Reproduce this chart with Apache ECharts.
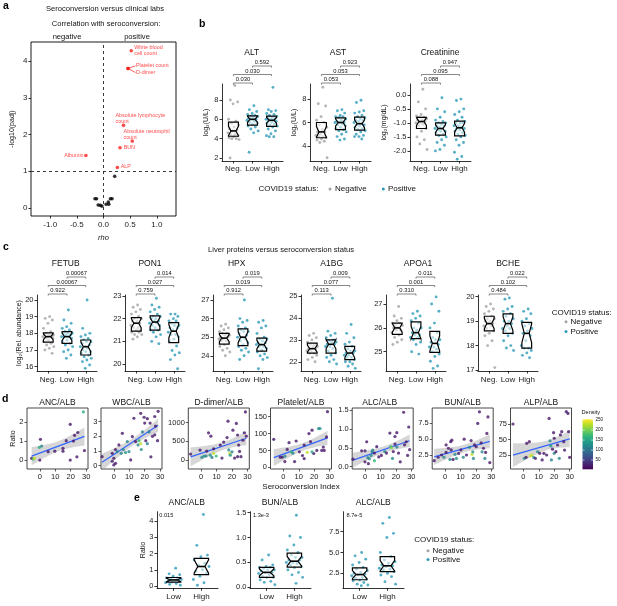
<!DOCTYPE html>
<html><head><meta charset="utf-8">
<script src="https://cdn.jsdelivr.net/npm/echarts@6/dist/echarts.min.js"></script>
<style>html,body{margin:0;padding:0;background:#fff}#c{width:617px;height:606px}</style>
</head><body><div id="c"></div>
<script>
// ================= DATA =================
// Panel a : correlation with seroconversion
const aLabNames = ['White blood\ncell count','Platelet count','D-dimer','Absolute lymphocyte\ncount','Absolute neutrophil\ncount','BUN','ALP','Albumin'];
const aLabRho   = [0.52, 0.46, 0.46, 0.375, 0.54, 0.31, 0.26, -0.33];
const aLabPadj  = [4.28, 3.80, 3.80, 2.25, 1.82, 1.64, 1.10, 1.43];
const aOtherRho  = [0.21,-0.16,-0.13,-0.06,-0.10,-0.03,0.05,0.09,0.10,0.13,0.16];
const aOtherPadj = [0.86, 0.25, 0.25, 0.07, 0.08, 0.05,0.10,0.16,0.10,0.25,0.25];
const aXTicks = [-1,-0.5,0,0.5,1];
const aYTicks = [0,1,2,3,4];

// Panel b : clinical labs by group
const groups3 = ['Neg.','Low','High'];
const altNeg  = [9.5,8.0,7.8,7.6,6.0,5.8,5.6,5.4,5.2,5.0,4.9,4.8,4.6,4.5,4.4,4.3,4.2,4.1,4.0,4.0,3.9,4.3,2.0];
const altLow  = [7.4,7.0,6.8,6.6,6.5,6.4,6.3,6.3,6.2,6.1,6.0,6.0,5.9,5.8,5.7,5.6,5.5,5.3,5.2,5.0,4.8,4.6,2.6];
const altHigh = [9.3,7.0,6.9,6.8,6.6,6.5,6.4,6.3,6.2,6.2,6.1,6.0,6.0,5.9,5.9,5.8,5.7,5.6,5.5,5.4,5.3,5.2,5.0,4.8,4.5,4.3,4.2,4.2];
const astNeg  = [9.0,7.6,7.4,6.5,6.2,6.0,5.8,5.6,5.4,5.2,5.2,5.0,4.9,4.8,4.8,4.7,4.6,4.5,4.4,4.3,3.0];
const astLow  = [7.1,7.0,6.8,6.6,6.5,6.5,6.4,6.3,6.2,6.1,6.0,6.0,6.0,5.9,5.8,5.7,5.6,5.5,5.4,5.3,5.2,5.0,4.8,4.6,4.5];
const astHigh = [7.9,7.7,7.0,6.9,6.8,6.6,6.5,6.4,6.3,6.2,6.2,6.1,6.0,5.9,5.8,5.8,5.7,5.6,5.5,5.4,5.3,5.2,5.0,4.9,4.8,4.8,4.6];
const creNeg  = [0.2,-0.25,-0.5,-0.7,-0.75,-0.8,-0.8,-0.85,-0.9,-0.9,-0.95,-1.0,-1.0,-1.05,-1.1,-1.2,-1.3,-1.5,-1.6,-1.75,-1.95];
const creLow  = [-0.1,-0.5,-0.6,-0.8,-0.9,-0.95,-1.0,-1.0,-1.05,-1.1,-1.1,-1.15,-1.2,-1.2,-1.25,-1.3,-1.3,-1.35,-1.4,-1.45,-1.5,-1.6,-1.7,-1.8,-1.95,-2.0];
const creHigh = [-0.15,-0.2,-0.5,-0.6,-0.7,-0.8,-0.9,-0.95,-1.0,-1.0,-1.0,-1.1,-1.1,-1.15,-1.2,-1.2,-1.25,-1.3,-1.35,-1.4,-1.45,-1.5,-1.6,-1.7,-1.8,-2.05,-2.2,-2.3];
const altP = ['0.030','0.030','0.592'];   // Neg-Low, Neg-High, Low-High
const astP = ['0.053','0.053','0.923'];
const creP = ['0.088','0.095','0.947'];
const altTicks = [2,4,6,8];
const astTicks = [4,6,8];
const creTicks = [-2,-1.5,-1,-0.5,0];

// Panel c : liver proteins
const fetubNeg  = [19.0,18.9,18.8,18.6,18.3,18.1,18.0,17.9,17.9,17.9,17.8,17.8,17.8,17.8,17.7,17.7,17.6,17.5,17.4,17.3,17.2,17.1,17.0,16.8];
const fetubLow  = [19.4,18.8,18.6,18.4,18.3,18.2,18.1,18.0,18.0,18.0,17.9,17.9,17.8,17.8,17.8,17.7,17.6,17.5,17.4,17.3,17.2,17.0,16.9,16.7,16.5];
const fetubHigh = [20.0,18.3,18.0,17.9,17.8,17.7,17.6,17.5,17.5,17.4,17.3,17.2,17.2,17.1,17.0,16.9,16.9,16.8,16.7,16.6,16.5,16.4,16.3,16.1,15.9];
const pon1Neg  = [22.6,22.5,22.4,22.3,22.2,22.1,22.0,22.0,21.9,21.9,21.8,21.8,21.7,21.6,21.6,21.5,21.5,21.4,21.4,21.3,21.3,21.2,21.1];
const pon1Low  = [22.9,22.6,22.5,22.4,22.3,22.2,22.1,22.1,22.0,22.0,21.9,21.9,21.8,21.8,21.7,21.7,21.6,21.5,21.5,21.4,21.3,21.2,21.0,20.9];
const pon1High = [22.2,22.2,22.1,22.0,21.9,21.9,21.8,21.7,21.7,21.6,21.6,21.5,21.4,21.3,21.3,21.2,21.1,21.0,20.8,20.6,20.5,20.4,20.2,19.8];
const hpxNeg  = [25.7,25.6,25.5,25.4,25.3,25.2,25.2,25.1,25.1,25.0,25.0,24.9,24.9,24.8,24.8,24.7,24.6,24.5,24.4,24.3,24.2,24.0];
const hpxLow  = [27.0,26.0,25.9,25.8,25.6,25.5,25.4,25.3,25.3,25.2,25.1,25.0,25.0,24.9,24.8,24.7,24.6,24.5,24.4,24.3,24.2,24.0,23.8];
const hpxHigh = [25.9,25.8,25.6,25.5,25.2,25.0,24.9,24.9,24.8,24.7,24.7,24.6,24.6,24.5,24.5,24.4,24.3,24.2,24.1,24.0,23.9,23.8,23.3];
const a1bgNeg  = [23.3,23.2,23.1,23.0,22.9,22.8,22.8,22.7,22.7,22.6,22.6,22.5,22.5,22.4,22.4,22.3,22.2,22.1,22.0];
const a1bgLow  = [24.9,23.4,23.3,23.2,23.1,23.0,22.95,22.9,22.9,22.8,22.8,22.7,22.7,22.6,22.5,22.4,22.3,22.2,22.1,22.0,21.9];
const a1bgHigh = [23.7,23.3,23.1,22.9,22.8,22.7,22.6,22.5,22.5,22.4,22.4,22.3,22.3,22.2,22.2,22.1,22.0,22.0,21.9,21.8,21.7];
const apoa1Neg  = [26.9,26.5,26.4,26.3,26.2,26.2,26.1,26.1,26.0,26.0,25.9,25.9,25.8,25.7,25.6,25.5,25.4,25.3];
const apoa1Low  = [26.7,26.6,26.5,26.4,26.3,26.2,26.0,26.0,25.9,25.8,25.7,25.7,25.6,25.6,25.5,25.4,25.3,25.0,24.9];
const apoa1High = [27.3,27.0,26.7,26.2,26.0,25.8,25.6,25.5,25.5,25.4,25.3,25.2,25.2,25.1,25.0,24.9,24.8,24.6,24.4,24.3];
const bcheNeg  = [19.7,19.6,19.5,19.4,19.3,19.2,19.1,19.1,19.0,19.0,18.9,18.9,18.8,18.8,18.7,18.6,18.5,18.4,18.2,18.0,17.1];
const bcheLow  = [19.95,19.9,19.6,19.5,19.4,19.3,19.2,19.1,19.0,19.0,18.9,18.8,18.7,18.7,18.6,18.5,18.4,18.2,18.0,17.9,17.8];
const bcheHigh = [19.5,19.4,19.3,19.1,19.0,18.9,18.8,18.7,18.6,18.5,18.4,18.2,18.0,17.9,17.9,17.8,17.7,17.6,17.5];
const fetubP = ['0.922','0.00067','0.00067'];
const pon1P  = ['0.759','0.027','0.014'];
const hpxP   = ['0.912','0.019','0.019'];
const a1bgP  = ['0.113','0.077','0.009'];
const apoa1P = ['0.310','0.001','0.011'];
const bcheP  = ['0.484','0.102','0.022'];
const fetubTicks = [16,17,18,19,20];
const pon1Ticks  = [20,21,22,23];
const hpxTicks   = [24,25,26,27];
const a1bgTicks  = [22,23,24,25];
const apoa1Ticks = [25,26,27];
const bcheTicks  = [17,18,19,20];

// Panel d : ratio vs seroconversion index  [index, ratio, density]
const dAnc = [[-5.3,0.09,20],[-4.3,0.05,180],[-3.5,0.1,230],[0,0,20],[0.4,1.09,20],[-0.3,0.67,160],[1.2,0.74,120],[5.4,0.44,20],[9.7,0.47,20],[15,0.47,20],[15,0.62,20],[17.1,1.02,20],[19.7,1.88,20],[19.7,0.0,20],[21.8,1.0,20],[22.5,1.3,20],[24.6,1.45,20],[24,0.17,20],[28.9,0.5,20],[28.2,2.54,160]];
const dWbc = [[-7.6,0.61,20],[-1.0,0.84,20],[0,0.5,20],[1.1,0.16,20],[1.1,1.1,20],[2.2,0.96,110],[3.3,1.41,20],[4.8,0.84,120],[5.5,2.2,20],[6.1,1.1,120],[7.6,0.89,130],[8.7,1.64,110],[9.8,0.96,120],[10.9,0.39,20],[12,1.98,20],[13,3.23,20],[14.1,1.64,20],[15.7,1.41,120],[16.3,1.7,170],[17.4,3.57,20],[17.4,1.5,230],[17.8,1.1,130],[18.5,2.3,110],[19.6,3.3,20],[20,2.9,20],[20.7,1.7,20],[21.7,3.2,20],[21.7,1.5,120],[22.8,2.3,110],[23.5,2.9,20],[24,0.6,20],[25,2.0,20],[26.5,2.1,20],[26.5,3.35,20],[28.3,1.7,20],[28.7,3.7,20],[27,2.7,20],[-1.0,0.3,20],[0,0.05,20]];
const dDdimer = [[-6.8,160,20],[-0.7,267,20],[0.5,72,120],[1.9,107,130],[3.2,107,120],[3.6,240,20],[4.8,729,20],[6.3,640,20],[5.9,130,130],[7,70,110],[8.1,178,230],[8.1,300,20],[9.8,107,170],[12.4,400,20],[13.5,53,20],[14.6,480,20],[16.8,600,20],[17.4,1040,20],[17.9,270,120],[18.5,180,230],[18.9,130,130],[20,220,110],[20.6,800,20],[21.7,53,20],[22.8,980,20],[23.6,670,20],[24.3,400,20],[24.9,230,20],[25.8,90,20],[27.1,530,20],[28,730,20],[28.7,1290,20],[29.3,640,20],[23.6,90,20]];
const dPlatelet = [[-6.2,83,20],[-2,30,20],[-0.7,30,20],[1,17,20],[1,33,120],[2.5,53,20],[3.7,73,20],[5.2,46,170],[6.2,42,120],[7.3,17,20],[8.3,78,20],[10.4,46,20],[12.4,35,20],[13.5,26,20],[15.5,44,230],[13.5,66,20],[16.6,100,20],[17.6,76,20],[18.6,110,20],[19.7,41,20],[22.8,115,130],[23.8,115,130],[21.7,50,20],[24.9,50,20],[26.5,50,20],[28,90,20],[28.6,165,20],[25.9,60,20],[18.6,46,150]];
const dAlc = [[-7.8,0.2,20],[-2.2,0.42,20],[0,0.42,20],[1.1,0.66,20],[0,0.13,20],[1.8,0.24,120],[2.2,0.08,20],[2.8,0.21,120],[3.9,0.3,130],[4.6,0.4,110],[5,0.44,120],[6.1,0.16,170],[6.1,0.36,20],[7.6,0.53,20],[8.9,0.26,20],[10.6,0.3,20],[12.8,0.4,120],[13.9,0.36,20],[16.1,0.89,20],[16.6,0.53,170],[17.2,0.5,210],[17.8,0.22,130],[18.3,0.4,20],[19.4,0.8,20],[20.6,0.52,120],[21.7,0.36,20],[22.8,0.13,20],[25,1.44,20],[25.6,0.58,20],[26.7,0.66,20],[27.6,0.3,20],[28.3,1.05,20],[28.9,0.45,20],[20.6,0.9,20],[19.4,0.6,20]];
const dBun = [[-7,1.6,20],[-4.4,2.14,20],[-2.2,2.5,20],[-0.7,2.14,120],[0.7,4.08,20],[0.7,2.9,20],[2.2,3.56,20],[3.2,1.8,120],[4,3.3,20],[3.7,4.6,20],[4.4,4.84,20],[5.2,1.8,20],[6.5,2.6,120],[7.4,1.95,130],[8.8,2.75,20],[10.3,3.3,20],[11.8,2.14,120],[12.4,5.0,20],[13.9,2.5,20],[15.8,3.72,120],[16.9,4.77,20],[17.5,2.6,230],[18,3.0,130],[18.4,1.95,120],[19.1,4.08,20],[20.2,3.8,20],[21.2,7.47,20],[22.3,9.3,20],[23.4,4.4,20],[24,3.0,120],[24.9,3.56,20],[26.3,2.9,20],[27.1,5.9,20],[27.8,8.5,20],[29,1.3,20],[25.8,1.95,120]];
const dAlp = [[-6.7,75,20],[0.7,19.7,120],[1.8,21.3,20],[2.2,43.8,20],[3.9,46.5,20],[4.4,23.4,240],[5.6,25,230],[6.7,21.3,130],[7.8,19.7,20],[9.3,30.4,120],[10.6,27.7,20],[12.2,17,20],[13.3,27.7,20],[15.1,25,20],[16.7,84,20],[17.3,48,120],[17.8,39.6,130],[18.2,17,120],[18.9,34.3,20],[19.6,61,20],[20,27.7,120],[21.1,30.4,20],[22.2,41.1,20],[23.3,19.7,120],[24,57.3,20],[24.9,62.6,20],[26.2,46.5,20],[27.8,95,20],[28.9,92,20],[29.3,62.6,20],[30,21.3,20],[26.7,33,20],[20,52,20]];
const dXTicks = [0,10,20,30];
const dTicks = {anc:[0,1,2], wbc:[0,1,2,3], dd:[0,500,1000], plt:[0,50,100,150], alc:[0,0.5,1,1.5], bun:[2.5,5,7.5], alp:[25,50,75]};
const densityTicks = [50,100,150,200,250];

// Panel e : positive only, Low vs High
const groups2 = ['Low','High'];
const eAncLow  = [1.1,0.75,0.7,0.6,0.5,0.5,0.45,0.4,0.35,0.3,0.3,0.25,0.2,0.15,0.1,0.05];
const eAncHigh = [4.4,2.5,1.9,1.8,1.6,1.4,1.3,1.2,1.0,0.9,0.8,0.6,0.4,0.2,0.05];
const eBunLow  = [0.65,0.55,0.45,0.42,0.4,0.4,0.38,0.35,0.35,0.33,0.3,0.3,0.28,0.25,0.22,0.2,0.2,0.15,0.12,0.1,0.05];
const eBunHigh = [1.45,1.03,1.0,0.85,0.75,0.7,0.65,0.6,0.6,0.55,0.55,0.5,0.5,0.48,0.45,0.42,0.4,0.35,0.3,0.25,0.2,0.08];
const eAlcLow  = [5.0,4.6,4.2,3.8,3.5,3.2,3.0,2.8,2.6,2.5,2.4,2.3,2.2,2.0,1.9,1.8,1.7,1.6,1.4,1.2,1.1,1.0];
const eAlcHigh = [9.2,8.5,7.3,6.8,5.0,4.5,4.1,3.9,3.7,3.5,3.4,3.3,3.1,3.0,2.9,2.7,2.5,2.3,2.1,1.5,1.2];
const eP = ['0.015','1.3e-3','8.7e-5'];
const eTicks = {anc:[0,1,2,3,4], bun:[0,0.5,1,1.5], alc:[2.5,5,7.5]};

// ================= STYLE / LAYOUT =================
const F = '"Liberation Sans", Arial, Helvetica, sans-serif';
const GREY = '#a3a3a3', TEAL = '#2c9bb8', RED = '#ff1a1a';
const VIRIDIS = ['#440154','#482878','#3e4989','#31688e','#26828e','#1f9e89','#35b779','#6ece58','#b5de2b','#fde725'];
const DMIN = 4, DMAX = 254;
const BOX_HW = 0.26;

const grids = [], xAxes = [], yAxes = [], series = [], graphics = [], brackets = [], densSeries = [];

function txt(x, y, s, o) {
  graphics.push({type:'text', x:x, y:y, silent:true, z:100,
    style:Object.assign({text:s, fill:'#111', fontSize:8, fontFamily:F, align:'center', verticalAlign:'middle'}, o||{})});
}
function dot(x, y, c, r) { graphics.push({type:'circle', silent:true, z:100, shape:{cx:x, cy:y, r:r||1.5}, style:{fill:c}}); }

function addGrid(L) {
  const i = grids.length;
  const framed = !!L.frame;
  grids.push({left:L.left, top:L.top, width:L.width, height:L.height, show:framed,
    borderColor:framed?L.frame:'transparent', borderWidth:framed?0.9:0, backgroundColor:'transparent',
    containLabel:false, outerBoundsMode:'none'});
  const tickCol = framed ? L.frame : '#000';
  const lab = {color:'#222', fontSize:L.fs||7.5, fontFamily:F};
  xAxes.push({type:'value', gridIndex:i, min:L.xmin, max:L.xmax,
    axisLine:{show:!framed, onZero:false, lineStyle:{color:'#000', width:0.8}},
    axisTick:{show:true, length:2.5, customValues:L.xticks, lineStyle:{color:tickCol, width:0.8}},
    axisLabel:Object.assign({}, lab, {customValues:L.xticks, margin:L.xmargin||3.5, fontSize:L.xfs||lab.fontSize, formatter:L.xfmt}),
    splitLine:{show:false}, nameMoveOverlap:false,
    name:L.xname||'', nameLocation:'middle', nameGap:L.xnameGap||15,
    nameTextStyle:{fontSize:7.5, fontFamily:F, color:'#111', fontStyle:'italic'}});
  yAxes.push({type:'value', gridIndex:i, min:L.ymin, max:L.ymax,
    axisLine:{show:!framed, onZero:false, lineStyle:{color:'#000', width:0.8}},
    axisTick:{show:true, length:2.5, customValues:L.yticks, lineStyle:{color:tickCol, width:0.8}},
    axisLabel:Object.assign({}, lab, {customValues:L.yticks, margin:3.5, formatter:L.yfmt}),
    splitLine:{show:false}, nameMoveOverlap:false,
    name:L.yname||'', nameLocation:'middle', nameGap:L.ynameGap||15,
    nameTextStyle:{fontSize:7, fontFamily:F, color:'#111'}});
  return i;
}

function quant(s, p) { const h = (s.length-1)*p, lo = Math.floor(h), hi = Math.min(lo+1, s.length-1); return s[lo] + (h-lo)*(s[hi]-s[lo]); }
function boxStats(vals, x) {
  const s = vals.slice().sort((a,b)=>a-b);
  const q1 = quant(s,0.25), med = quant(s,0.5), q3 = quant(s,0.75);
  const nt = 1.58*(q3-q1)/Math.sqrt(s.length);
  return [x, q1, med-nt, med, med+nt, q3];
}
function boxSeries(gi, stats) {
  return {type:'custom', xAxisIndex:gi, yAxisIndex:gi, z:5, silent:true, clip:false,
    data:stats, encode:{x:0, y:[1,5]},
    renderItem:function(params, api) {
      const x = api.value(0), hw = BOX_HW;
      const P = (dx, y) => api.coord([x+dx, y]);
      const q1 = api.value(1), nl = api.value(2), med = api.value(3), nu = api.value(4), q3 = api.value(5);
      const pts = [P(-hw,q3),P(hw,q3),P(hw,nu),P(hw/2,med),P(hw,nl),P(hw,q1),P(-hw,q1),P(-hw,nl),P(-hw/2,med),P(-hw,nu)];
      const a = P(-hw/2,med), b = P(hw/2,med);
      return {type:'group', children:[
        {type:'polygon', shape:{points:pts}, style:{fill:'rgba(255,255,255,0.55)', stroke:'#000', lineWidth:1.2, lineJoin:'miter'}},
        {type:'line', shape:{x1:a[0], y1:a[1], x2:b[0], y2:b[1]}, style:{stroke:'#000', lineWidth:1.6}}
      ]};
    }};
}
function jit(i) { return ((((i+1)*0.6180339887) % 1) - 0.5) * 0.62; }

function stripPanel(L, groupVals, colors, labels, pvals, title, tx, ty) {
  L.xticks = labels.map((_, k) => k+1);
  L.xmin = 0.4; L.xmax = labels.length + 0.6;
  L.xfmt = v => labels[Math.round(v)-1] || '';
  L.xfs = 8;
  const gi = addGrid(L);
  groupVals.forEach((vals, k) => {
    series.push({type:'scatter', xAxisIndex:gi, yAxisIndex:gi, symbolSize:2.9, silent:true, z:2,
      itemStyle:{color:colors[k]}, data:vals.map((v, i) => [k+1+jit(i), v])});
  });
  series.push(boxSeries(gi, groupVals.map((v, k) => boxStats(v, k+1))));
  if (pvals) brackets.push({gi:gi, top:L.top, pvals:pvals});
  txt(tx, ty, title, {fontSize:8.5});
  return gi;
}

function lmFit(pts) {
  const n = pts.length; let mx=0, my=0;
  pts.forEach(p => { mx += p[0]; my += p[1]; }); mx /= n; my /= n;
  let sxx=0, sxy=0; pts.forEach(p => { sxx += (p[0]-mx)*(p[0]-mx); sxy += (p[0]-mx)*(p[1]-my); });
  const b = sxy/sxx, a = my - b*mx;
  let ss=0; pts.forEach(p => { const r = p[1]-(a+b*p[0]); ss += r*r; });
  const s = Math.sqrt(ss/(n-2));
  const xs = pts.map(p=>p[0]);
  return {a, b, s, n, mx, sxx, xmin:Math.min(...xs), xmax:Math.max(...xs)};
}

function densPanel(L, pts, title) {
  L.frame = '#333';
  L.xmin = -8.3; L.xmax = 31.2; L.xticks = dXTicks; L.xmargin = 3.5;
  L.yfmt = L.yfmt || (v => String(v));
  const gi = addGrid(L);
  const f = lmFit(pts);
  const up = [], lo = [];
  for (let t = 0; t <= 40; t++) {
    const x = f.xmin + (f.xmax - f.xmin)*t/40, yh = f.a + f.b*x;
    const se = f.s*Math.sqrt(1/f.n + (x-f.mx)*(x-f.mx)/f.sxx);
    up.push([x, yh + 2.02*se]); lo.push([x, yh - 2.02*se]);
  }
  const poly = up.concat(lo.reverse());
  series.push({type:'custom', xAxisIndex:gi, yAxisIndex:gi, z:1, silent:true, clip:true,
    data:[[f.mx, f.a + f.b*f.mx]],
    renderItem:function(params, api) {
      return {type:'polygon', shape:{points:poly.map(p => api.coord(p))}, style:{fill:'rgba(153,153,153,0.4)'}};
    }});
  series.push({type:'line', xAxisIndex:gi, yAxisIndex:gi, z:2, silent:true, symbol:'none',
    lineStyle:{color:'#3366ff', width:1.2}, data:[[f.xmin, f.a+f.b*f.xmin],[f.xmax, f.a+f.b*f.xmax]]});
  densSeries.push(series.length);
  series.push({type:'scatter', xAxisIndex:gi, yAxisIndex:gi, z:3, silent:true, symbolSize:3.2, data:pts});
  txt(L.left + L.width/2 + (L.tdx||0), 402.7, title, {fontSize:8.5});
  return gi;
}

// ---------- Panel a ----------
const ga = addGrid({left:31, top:42, width:145, height:174, frame:'#000', xmin:-1.36, xmax:1.36, xticks:aXTicks,
  xfmt:v => v.toFixed(1), xmargin:5, ymin:-0.22, ymax:4.52, yticks:aYTicks, yfmt:v => String(v), fs:8,
  yname:'-log10(padj)', ynameGap:15, xname:'rho', xnameGap:18});
const aLabOffsets = [[3,-0.5],[8,-2.6],[8,4.4],[-8,-6.6],[-8.7,-6.8],[3.6,0],[3.3,-1],[-2.3,0]];
const aLabAlign = ['left','left','left','left','left','left','left','right'];
series.push({type:'scatter', xAxisIndex:ga, yAxisIndex:ga, symbolSize:3.6, silent:true, z:3, itemStyle:{color:'#000'},
  data:aOtherRho.map((r, i) => [r, aOtherPadj[i]]),
  markLine:{silent:true, symbol:['none','none'], label:{show:false}, lineStyle:{type:[3,3], color:'#222', width:0.9},
    data:[{xAxis:0},{yAxis:1}]}});
series.push({type:'scatter', xAxisIndex:ga, yAxisIndex:ga, symbolSize:3.6, silent:true, z:4, itemStyle:{color:RED},
  data:aLabRho.map((r, i) => ({value:[r, aLabPadj[i]],
    label:{show:true, position:'inside', formatter:aLabNames[i], align:aLabAlign[i], verticalAlign:'middle',
      offset:aLabOffsets[i], color:RED, fontSize:5.4, lineHeight:5.6, fontFamily:F}}))});
txt(105, 9, 'Seroconversion versus clinical labs', {fontSize:7.6});
txt(106, 24, 'Correlation with seroconversion:', {fontSize:7.6});
txt(67, 37, 'negative', {fontSize:7.6});
txt(137, 37, 'positive', {fontSize:7.6});

// ---------- Panel b ----------
const bTop = 84, bH = 77;
stripPanel({left:222, top:bTop, width:61, height:bH, ymin:1.69, ymax:9.65, yticks:altTicks, yfmt:v=>String(v), yname:'log₂(U/L)', ynameGap:12},
  [altNeg, altLow, altHigh], [GREY, TEAL, TEAL], groups3, altP, 'ALT', 251.7, 53);
stripPanel({left:310, top:bTop, width:61, height:bH, ymin:2.72, ymax:9.28, yticks:astTicks, yfmt:v=>String(v), yname:'log₂(U/L)', ynameGap:12},
  [astNeg, astLow, astHigh], [GREY, TEAL, TEAL], groups3, astP, 'AST', 338, 53);
stripPanel({left:410, top:bTop, width:61, height:bH, ymin:-2.36, ymax:0.39, yticks:creTicks, yfmt:v=>v.toFixed(1), yname:'log₂(mg/dL)', ynameGap:22},
  [creNeg, creLow, creHigh], [GREY, TEAL, TEAL], groups3, creP, 'Creatinine', 440, 53);
txt(288.5, 189, 'COVID19 status:', {fontSize:8});
dot(330, 189, GREY); txt(335, 189, 'Negative', {fontSize:8, align:'left'});
dot(383.3, 189, TEAL); txt(388, 189, 'Positive', {fontSize:8, align:'left'});

// ---------- Panel c ----------
const cTop = 295, cH = 76, cW = 60;
const cDef = [
  [37,  15.74, 20.3,  fetubTicks, [fetubNeg, fetubLow, fetubHigh], fetubP, 'FETUB', 65.7],
  [125, 19.7,  23.04, pon1Ticks,  [pon1Neg, pon1Low, pon1High],    pon1P,  'PON1',  150],
  [213, 23.18, 27.27, hpxTicks,   [hpxNeg, hpxLow, hpxHigh],       hpxP,   'HPX',   236.7],
  [301, 21.58, 25.05, a1bgTicks,  [a1bgNeg, a1bgLow, a1bgHigh],    a1bgP,  'A1BG',  331.7],
  [386, 24.19, 27.38, apoa1Ticks, [apoa1Neg, apoa1Low, apoa1High], apoa1P, 'APOA1', 418],
  [478, 16.96, 20.07, bcheTicks,  [bcheNeg, bcheLow, bcheHigh],    bcheP,  'BCHE',  508]
];
cDef.forEach((d, k) => {
  stripPanel({left:d[0], top:cTop, width:cW, height:cH, ymin:d[1], ymax:d[2], yticks:d[3], yfmt:v=>String(v),
    yname:k===0 ? 'log₂(Rel. abundance)' : '', ynameGap:14, xmargin:4.5},
    d[4], [GREY, TEAL, TEAL], groups3, d[5], d[6], d[7], 264);
});
txt(281, 250, 'Liver proteins versus seroconversion status', {fontSize:7.6});
txt(551.7, 312.3, 'COVID19 status:', {fontSize:8, align:'left'});
dot(566, 321.7, GREY); txt(570.5, 321.7, 'Negative', {fontSize:8, align:'left'});
dot(566, 331.5, TEAL); txt(570.5, 331.5, 'Positive', {fontSize:8, align:'left'});

// ---------- Panel d ----------
const dTop = 408, dH = 61, dW = 61;
densPanel({left:27,    top:dTop, width:dW, height:dH, ymin:-0.47, ymax:2.74, yticks:dTicks.anc, yname:'Ratio', ynameGap:10}, dAnc, 'ANC/ALB');
densPanel({left:101,   top:dTop, width:dW, height:dH, ymin:-0.23, ymax:3.93, yticks:dTicks.wbc}, dWbc, 'WBC/ALB');
densPanel({left:188.3, top:dTop, width:dW, height:dH, ymin:-241, ymax:1394, yticks:dTicks.dd}, dDdimer, 'D-dimer/ALB');
densPanel({left:270.5, top:dTop, width:dW, height:dH, ymin:-5, ymax:175.8, yticks:dTicks.plt}, dPlatelet, 'Platelet/ALB');
densPanel({left:352.2, top:dTop, width:dW, height:dH, ymin:-0.06, ymax:1.553, yticks:dTicks.alc, yfmt:v=>v.toFixed(1), tdx:-3}, dAlc, 'ALC/ALB');
densPanel({left:432.2, top:dTop, width:dW, height:dH, ymin:0.29, ymax:9.91, yticks:dTicks.bun, yfmt:v=>v.toFixed(1)}, dBun, 'BUN/ALB');
densPanel({left:510.5, top:dTop, width:dW, height:dH, ymin:2.4, ymax:100.8, yticks:dTicks.alp}, dAlp, 'ALP/ALB');
txt(301, 486.5, 'Seroconversion Index', {fontSize:8});
// density colour bar
const cbTop = 419.3, cbBot = 469.3, cbX = 582.5, cbW = 10.5;
graphics.push({type:'rect', silent:true, z:100, shape:{x:cbX, y:cbTop, width:cbW, height:cbBot-cbTop},
  style:{fill:new echarts.graphic.LinearGradient(0, 1, 0, 0, VIRIDIS.map((c, i) => ({offset:i/(VIRIDIS.length-1), color:c})))}});
densityTicks.forEach(v => {
  const y = cbBot - (v - DMIN)/(DMAX - DMIN)*(cbBot - cbTop);
  graphics.push({type:'line', silent:true, z:101, shape:{x1:cbX, y1:y, x2:cbX+2, y2:y}, style:{stroke:'#fff', lineWidth:0.6}});
  graphics.push({type:'line', silent:true, z:101, shape:{x1:cbX+cbW-2, y1:y, x2:cbX+cbW, y2:y}, style:{stroke:'#fff', lineWidth:0.6}});
  txt(cbX+cbW+2.5, y, String(v), {fontSize:4.6, align:'left'});
});
txt(581.5, 412.7, 'Density', {fontSize:5.6, align:'left'});

// ---------- Panel e ----------
const eTop = 511.7, eH = 76.6, eW = 61;
stripPanel({left:157, top:eTop, width:eW, height:eH, ymin:-0.14, ymax:4.57, yticks:eTicks.anc, yfmt:v=>String(v), yname:'Ratio', ynameGap:10, xmargin:4},
  [eAncLow, eAncHigh], [TEAL, TEAL], groups2, null, 'ANC/ALB', 186.7, 503);
stripPanel({left:250, top:eTop, width:eW, height:eH, ymin:-0.02, ymax:1.52, yticks:eTicks.bun, yfmt:v=>v.toFixed(1), xmargin:4},
  [eBunLow, eBunHigh], [TEAL, TEAL], groups2, null, 'BUN/ALB', 280, 503);
stripPanel({left:343, top:eTop, width:eW, height:eH, ymin:0.7, ymax:9.9, yticks:eTicks.alc, yfmt:v=>v.toFixed(1), xmargin:4},
  [eAlcLow, eAlcHigh], [TEAL, TEAL], groups2, null, 'ALC/ALB', 373.3, 503);
txt(159.3, 515, eP[0], {fontSize:5.6, align:'left'});
txt(253, 515, eP[1], {fontSize:5.6, align:'left'});
txt(346.5, 515, eP[2], {fontSize:5.6, align:'left'});
txt(414.3, 540, 'COVID19 status:', {fontSize:8, align:'left'});
dot(428, 550.7, GREY); txt(432.5, 550.7, 'Negative', {fontSize:8, align:'left'});
dot(428, 559.5, TEAL); txt(432.5, 559.5, 'Positive', {fontSize:8, align:'left'});

// panel letters
[['a',3,6],['b',199,24.3],['c',3,246.7],['d',2,399.3],['e',134,498.3]].forEach(p =>
  txt(p[1], p[2], p[0], {fontSize:10.5, fontWeight:'bold', align:'left', fill:'#000'}));

// ================= RENDER =================
const chart = echarts.init(document.getElementById('c'), null, {renderer:'canvas', width:617, height:606});
chart.setOption({
  animation:false, backgroundColor:'#fff',
  grid:grids, xAxis:xAxes, yAxis:yAxes, series:series,
  visualMap:[{type:'continuous', show:false, min:DMIN, max:DMAX, dimension:2, seriesIndex:densSeries, inRange:{color:VIRIDIS}}]
});

// significance brackets (x positions from the library's axes)
const levels = [[1,2,-1],[1,3,-9.5],[2,3,-18]];
brackets.forEach(b => {
  levels.forEach((lv, k) => {
    const x1 = chart.convertToPixel({xAxisIndex:b.gi}, lv[0]);
    const x2 = chart.convertToPixel({xAxisIndex:b.gi}, lv[1]);
    const y = b.top + lv[2];
    graphics.push({type:'polyline', silent:true, z:100, shape:{points:[[x1,y+1.6],[x1,y],[x2,y],[x2,y+1.6]]},
      style:{stroke:'#555', lineWidth:0.7, fill:null}});
    txt((x1+x2)/2, y-0.6, b.pvals[k], {fontSize:5.8, verticalAlign:'bottom'});
  });
});
// repel segments for the overlapping Platelet / D-dimer labels
const pp = chart.convertToPixel({gridIndex:ga}, [aLabRho[1], aLabPadj[1]]);
graphics.push({type:'line', silent:true, z:100, shape:{x1:pp[0], y1:pp[1], x2:pp[0]+7.5, y2:pp[1]-2.6}, style:{stroke:RED, lineWidth:0.7}});
graphics.push({type:'line', silent:true, z:100, shape:{x1:pp[0], y1:pp[1], x2:pp[0]+7.5, y2:pp[1]+4.2}, style:{stroke:RED, lineWidth:0.7}});

chart.setOption({graphic:graphics});
</script>
</body></html>
